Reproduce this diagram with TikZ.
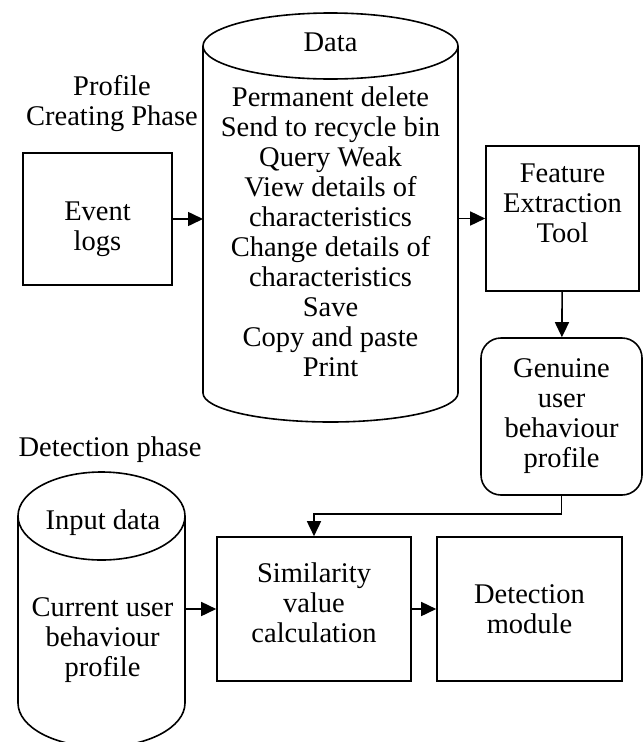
\documentclass[tikz,border=0pt]{standalone}
\usepackage{fontspec}
\setmainfont{Liberation Serif}
\usetikzlibrary{arrows.meta}
\tikzstyle{box}=[draw, line width=1.6pt, align=center, inner sep=0pt]
\tikzstyle{txt}=[align=center, inner sep=0pt]
\tikzstyle{store}=[draw, line width=1.6pt]
\tikzstyle{flow}=[draw, line width=1.6pt, -{Triangle[length=15pt,width=14pt]}]

\begin{document}
\begin{tikzpicture}[x=1pt,y=-1pt,font=\fontsize{28.5}{30}\selectfont]
                    \useasboundingbox (0,0) rectangle (643,742);

                    % data stores
                    \path[store] (203,46) -- (203,393) arc[start angle=180,end angle=0,x radius=127.5,y radius=29] -- (458,46);
                    \path[store] (330.5,46) ellipse [x radius=127.5,y radius=33];
                    \path[store] (18,516) -- (18,703) arc[start angle=180,end angle=0,x radius=83.5,y radius=44] -- (185,516);
                    \path[store] (101.5,516) ellipse [x radius=83.5,y radius=44];

                    \coordinate (dataW) at (203,219);
                    \coordinate (dataE) at (458,218.5);
                    \coordinate (inputE) at (185,609);
                    \coordinate (bend) at (314,514);

                    \node[txt] (profilephase) at (112,104) {Profile\\Creating Phase};
                    \node[txt] (detectphase) at (110,450) {Detection phase};

                    \node[box,minimum width=149pt,minimum height=132pt] (logs) at (97.5,219) {\mbox{}\\[10pt]Event\\logs};
                    \node[txt] (datahead) at (330.5,42) {Data};
                    \node[txt] (datalist) at (330.5,232) {Permanent delete\\Send to recycle bin\\Query Weak\\View details of\\characteristics\\Change details of\\characteristics\\Save\\Copy and paste\\Print};
                    \node[box,minimum width=153pt,minimum height=145pt] (feature) at (562.5,218.5) {Feature\\Extraction\\Tool\\\mbox{}};
                    \node[box,rounded corners=20pt,minimum width=161pt,minimum height=157pt] (genuine) at (561.5,416.5) {Genuine\\user\\behaviour\\profile};
                    \node[box,minimum width=194pt,minimum height=144pt] (similarity) at (314,609) {Similarity\\value\\calculation\\[-18pt]\mbox{}};
                    \node[box,minimum width=185pt,minimum height=144pt] (detection) at (529.5,609) {Detection\\module};
                    \node[txt] (inputhead) at (103,523) {Input data};
                    \node[txt] (inputbody) at (102.5,640) {Current user\\behaviour\\profile};

                    \path[flow] (logs.east) -- (dataW);
                    \path[flow] (dataE) -- (feature);
                    \path[flow] (feature) -- (genuine);
                    \path[flow] (genuine.south) |- (bend) -- (similarity.north);
                    \path[flow] (inputE) -- (similarity);
                    \path[flow] (similarity) -- (detection);
                \end{tikzpicture}
\end{document}
